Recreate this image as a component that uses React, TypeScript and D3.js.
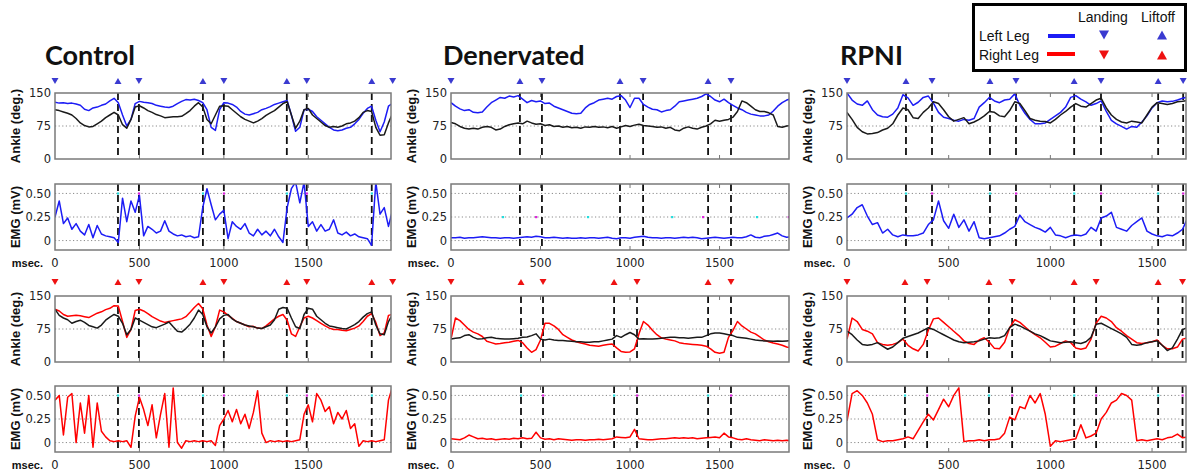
import React from 'react';
import * as d3 from 'd3';

// Sampling interval of every series (ms)
const STEP = 25;

// ---------- Control ----------
const ctrlLeftAnkle = [
  129, 127, 128, 126, 127, 125, 122, 113, 110, 116, 118, 122, 125, 132, 138,
  128, 100, 75, 90, 126, 131, 129, 128, 126, 122, 120, 118, 117, 120, 126,
  131, 135, 134, 136, 133, 128, 112, 72, 65, 112, 128, 127, 124, 118, 108,
  102, 100, 103, 106, 112, 115, 119, 124, 127, 130, 133, 100, 63, 72, 112,
  113, 108, 96, 88, 80, 72, 66, 64, 66, 70, 72, 80, 90, 104, 115,
  120, 88, 62, 84, 120, 127,
];
const ctrlLeftRef = [
  112, 110, 107, 104, 100, 92, 82, 76, 73, 74, 80, 86, 94, 100, 106,
  100, 78, 70, 90, 118, 121, 116, 110, 106, 101, 98, 94, 95, 96, 96,
  97, 103, 110, 120, 128, 118, 90, 80, 100, 120, 121, 120, 112, 104, 96,
  90, 86, 82, 86, 92, 99, 105, 110, 118, 126, 130, 100, 70, 86, 112,
  115, 100, 92, 84, 76, 72, 74, 72, 75, 80, 82, 86, 94, 106, 110,
  108, 72, 54, 55, 82, 104,
];
const ctrlLeftEmg = [
  0.25, 0.42, 0.18, 0.24, 0.12, 0.18, 0.1, 0.06, 0.17, 0.03, 0.16, 0.07, 0.05, 0.04, 0.03,
  -0.02, 0.45, 0.2, 0.42, 0.3, 0.48, 0.05, 0.15, 0.12, 0.08, 0.1, 0.21, 0.1, 0.07, 0.05,
  0.06, 0.04, 0.05, 0.03, 0.04, 0.35, 0.55, 0.38, 0.22, 0.28, 0.32, 0.02, 0.2, 0.15, 0.12,
  0.18, 0.08, 0.05, 0.12, 0.06, 0.1, 0.05, 0.12, 0.04, -0.02, 0.35, 0.55, 0.62, 0.4, 0.62,
  0.15, 0.2, 0.1, 0.17, 0.1, 0.12, 0.22, 0.08, 0.06, 0.09, 0.05, 0.07, 0.04, 0.03, 0.02,
  -0.05, 0.62, 0.28, 0.35, 0.15, 0.33,
];
const ctrlRightAnkle = [
  120, 116, 108, 104, 105, 106, 105, 103, 101, 106, 111, 114, 119, 122, 128,
  127, 92, 56, 74, 117, 120, 116, 110, 103, 98, 93, 90, 92, 94, 96,
  98, 103, 113, 124, 133, 121, 84, 58, 80, 118, 114, 106, 99, 92, 88,
  84, 80, 81, 77, 76, 82, 90, 98, 104, 108, 95, 64, 58, 80, 100,
  104, 100, 94, 88, 82, 77, 74, 74, 72, 71, 74, 77, 82, 92, 104,
  110, 90, 60, 66, 106, 108,
];
const ctrlRightRef = [
  120, 106, 100, 96, 88, 92, 95, 90, 83, 80, 77, 84, 95, 102, 108,
  104, 88, 62, 74, 100, 95, 90, 85, 80, 78, 82, 86, 91, 80, 70,
  68, 76, 86, 100, 118, 108, 80, 66, 80, 98, 106, 108, 98, 92, 88,
  84, 82, 80, 77, 76, 80, 84, 96, 120, 124, 122, 100, 80, 76, 108,
  122, 120, 104, 96, 88, 82, 80, 78, 76, 75, 80, 85, 92, 102, 110,
  114, 84, 64, 62, 92, 108,
];
const ctrlRightEmg = [
  0.45, 0.5, 0.08, 0.48, 0.52, 0.0, 0.42, 0.1, 0.5, -0.05, 0.42, 0.12, 0.06, 0.02, 0.01,
  0.02, 0.01, 0.02, -0.05, 0.28, 0.48, 0.35, 0.18, 0.4, 0.05, 0.3, 0.52, -0.05, 0.58, 0.0,
  -0.06, 0.02, 0.01, 0.02, 0.01, 0.02, 0.01, 0.02, -0.03, 0.18, 0.25, 0.34, 0.22, 0.35, 0.2,
  0.3, 0.15, 0.32, 0.55, 0.1, 0.0, 0.02, 0.01, 0.02, 0.01, 0.02, 0.01, 0.02, 0.03, 0.3,
  0.4, 0.22, 0.52, 0.45, 0.33, 0.38, 0.2, 0.32, 0.25, 0.34, 0.15, 0.2, -0.04, 0.02, 0.01,
  0.02, 0.01, 0.02, 0.03, 0.45, 0.6,
];
const ctrlLanding = [0, 497, 1000, 1491, 2000];
const ctrlLiftoff = [373, 876, 1373, 1876];

// ---------- Denervated ----------
const dnvLeftAnkle = [
  128, 120, 114, 110, 112, 106, 105, 107, 118, 128, 134, 140, 138, 143, 141,
  144, 136, 128, 133, 130, 132, 126, 127, 120, 116, 112, 108, 104, 103, 104,
  116, 124, 128, 134, 136, 138, 136, 142, 144, 134, 117, 138, 138, 124, 118,
  113, 112, 107, 110, 112, 120, 130, 132, 134, 136, 138, 142, 148, 142, 134,
  130, 136, 128, 122, 116, 112, 106, 102, 100, 98, 98, 100, 109, 120, 128,
  134, 137,
];
const dnvLeftRef = [
  83, 80, 74, 70, 68, 70, 68, 72, 74, 72, 66, 68, 74, 78, 80,
  82, 80, 86, 82, 79, 80, 76, 78, 74, 75, 72, 74, 71, 72, 70,
  73, 72, 74, 72, 73, 71, 74, 70, 73, 76, 74, 77, 79, 76, 75,
  74, 72, 73, 70, 72, 66, 64, 70, 73, 70, 68, 72, 75, 80, 88,
  86, 88, 90, 95, 108, 132, 128, 120, 112, 108, 108, 105, 100, 74, 72,
  75, 76,
];
const dnvLeftEmg = [
  0.03, 0.03, 0.035, 0.025, 0.03, 0.03, 0.035, 0.04, 0.035, 0.03, 0.03, 0.025, 0.03, 0.03, 0.025,
  0.03, 0.035, 0.04, 0.035, 0.045, 0.04, 0.03, 0.03, 0.035, 0.03, 0.025, 0.03, 0.025, 0.025, 0.03,
  0.025, 0.03, 0.03, 0.025, 0.03, 0.035, 0.025, 0.02, 0.03, 0.03, 0.025, 0.035, 0.04, 0.045, 0.035,
  0.03, 0.03, 0.025, 0.03, 0.03, 0.025, 0.03, 0.035, 0.03, 0.035, 0.03, 0.02, 0.025, 0.03, 0.035,
  0.03, 0.025, 0.03, 0.035, 0.03, 0.03, 0.04, 0.06, 0.035, 0.03, 0.045, 0.05, 0.065, 0.08, 0.05,
  0.035, 0.04,
];
const dnvRightAnkle = [
  52, 100, 94, 84, 74, 68, 64, 58, 47, 44, 41, 42, 44, 45, 47,
  49, 44, 32, 22, 28, 50, 88, 88, 82, 74, 62, 56, 50, 46, 43,
  41, 38, 37, 36, 38, 40, 41, 32, 24, 22, 23, 30, 64, 92, 84,
  72, 62, 55, 52, 50, 48, 44, 42, 41, 40, 39, 38, 36, 30, 22,
  20, 22, 56, 72, 92, 82, 75, 68, 64, 57, 50, 46, 43, 41, 38,
  34, 32,
];
const dnvRightRef = [
  52, 54, 55, 60, 62, 56, 52, 53, 55, 56, 54, 53, 52, 52, 53,
  54, 56, 57, 60, 64, 52, 50, 52, 50, 49, 49, 48, 47, 46, 46,
  45, 45, 46, 46, 48, 50, 52, 60, 56, 62, 67, 62, 52, 53, 52,
  52, 53, 54, 55, 56, 56, 55, 55, 54, 55, 56, 56, 60, 64, 66,
  66, 64, 62, 60, 56, 55, 54, 52, 50, 49, 48, 48, 47, 48, 47,
  48, 49,
];
const dnvRightEmg = [
  0.04, 0.035, 0.03, 0.05, 0.08, 0.06, 0.04, 0.045, 0.035, 0.04, 0.03, 0.035, 0.04, 0.035, 0.045,
  0.04, 0.05, 0.04, 0.045, 0.11, 0.05, 0.035, 0.04, 0.03, 0.04, 0.035, 0.03, 0.025, 0.03, 0.03,
  0.025, 0.03, 0.03, 0.035, 0.03, 0.035, 0.04, 0.06, 0.055, 0.05, 0.06, 0.14, 0.04, 0.035, 0.03,
  0.03, 0.035, 0.04, 0.04, 0.045, 0.05, 0.045, 0.05, 0.045, 0.05, 0.04, 0.045, 0.05, 0.055, 0.06,
  0.05, 0.1, 0.06, 0.05, 0.035, 0.03, 0.04, 0.03, 0.025, 0.02, 0.03, 0.025, 0.02, 0.025, 0.02,
  0.025, 0.02,
];
const dnvLeftLanding = [0, 508, 1073, 1564];
const dnvLeftLiftoff = [385, 944, 1436];
const dnvRightLanding = [0, 514, 1039, 1564];
const dnvRightLiftoff = [391, 911, 1436];
const dnvLeftCyan = [290, 765, 1235, 1709];
const dnvLeftMagenta = [475, 1408, 1886];

// ---------- RPNI ----------
const rpniLeftAnkle = [
  150, 134, 125, 122, 132, 112, 100, 96, 95, 102, 116, 146, 139, 122, 129,
  140, 143, 127, 106, 95, 92, 88, 86, 90, 88, 92, 118, 128, 140, 132,
  128, 134, 136, 148, 122, 104, 90, 80, 80, 82, 90, 98, 106, 118, 140,
  144, 136, 130, 122, 126, 132, 108, 88, 80, 74, 68, 74, 72, 84, 98,
  116, 128, 132, 130, 131, 134, 138, 141,
];
const rpniLeftRef = [
  106, 90, 72, 62, 57, 58, 60, 66, 70, 80, 100, 116, 112, 94, 92,
  106, 116, 130, 126, 112, 96, 86, 90, 94, 80, 84, 90, 98, 108, 106,
  98, 96, 110, 130, 126, 110, 92, 88, 86, 85, 82, 90, 100, 108, 118,
  126, 120, 118, 126, 134, 138, 116, 100, 90, 84, 82, 86, 84, 82, 100,
  118, 128, 126, 124, 126, 130, 131, 133,
];
const rpniLeftEmg = [
  0.24, 0.28, 0.35, 0.38, 0.26, 0.17, 0.19, 0.08, 0.12, 0.06, 0.04, 0.06, 0.05, 0.05, 0.06,
  0.08, 0.17, 0.22, 0.42, 0.21, 0.13, 0.28, 0.14, 0.22, 0.1, 0.2, 0.03, 0.02, 0.03, 0.04,
  0.05, 0.08, 0.12, 0.15, 0.27, 0.2, 0.17, 0.14, 0.12, 0.09, 0.14, 0.06, 0.05, 0.03, 0.05,
  0.06, 0.05, 0.07, 0.14, 0.1, 0.24, 0.26, 0.3, 0.14, 0.12, 0.1, 0.16, 0.2, 0.24, 0.1,
  0.07, 0.05, 0.04, 0.06, 0.05, 0.08, 0.12, 0.24,
];
const rpniRightAnkle = [
  52, 100, 92, 74, 70, 64, 44, 40, 38, 40, 44, 52, 38, 30, 25,
  40, 72, 98, 100, 90, 80, 70, 60, 48, 42, 40, 50, 55, 45, 31,
  30, 45, 78, 96, 90, 80, 70, 62, 55, 45, 34, 36, 42, 48, 44,
  32, 29, 32, 52, 88, 104, 100, 92, 78, 70, 60, 52, 44, 42, 44,
  46, 50, 38, 30, 30, 34, 52, 55,
];
const rpniRightRef = [
  70, 62, 50, 40, 38, 40, 44, 36, 29, 34, 44, 54, 58, 62, 66,
  72, 78, 74, 68, 62, 56, 50, 46, 44, 45, 46, 48, 52, 55, 54,
  55, 60, 78, 86, 82, 76, 70, 64, 60, 54, 48, 46, 44, 45, 46,
  44, 42, 46, 56, 86, 88, 82, 76, 70, 64, 56, 40, 38, 40, 44,
  46, 48, 38, 26, 32, 52, 74, 78,
];
const rpniRightEmg = [
  0.23, 0.52, 0.55, 0.5, 0.42, 0.3, 0.03, 0.01, 0.02, 0.02, 0.03, 0.04, 0.06, 0.04, 0.13,
  0.22, 0.3, 0.24, 0.35, 0.46, 0.38, 0.5, 0.58, 0.01, 0.02, 0.02, 0.03, 0.02, 0.03, 0.03,
  0.04, 0.1, 0.27, 0.24, 0.38, 0.36, 0.5, 0.42, 0.52, 0.3, -0.04, 0.02, 0.01, 0.02, 0.03,
  0.04, 0.19, 0.05, 0.07, 0.1, 0.25, 0.32, 0.42, 0.45, 0.52, 0.5, 0.45, 0.02, 0.03, 0.02,
  0.03, 0.04, 0.03, 0.05, 0.06, 0.09, 0.05, 0.06,
];
const rpniLeftLanding = [0, 418, 831, 1249, 1653];
const rpniLeftLiftoff = [290, 703, 1117, 1530];
const rpniRightLanding = [0, 394, 812, 1225, 1650];
const rpniRightLiftoff = [285, 698, 1117, 1530];

// ---------- Axis ticks ----------
const ankleTicks = [0, 75, 150];
const emgTicks = [0, 0.25, 0.5];
const emgTickLabels = ['0', '0.25', '0.50'];
const timeTicks = [0, 500, 1000, 1500];

// ---------- Styling ----------
const BLUE = '#1c1cf5';
const BLUE_TRI = '#3a3ad0';
const RED = '#ff0000';
const RED_TRI = '#ee1111';
const CYAN = '#22dddd';
const MAGENTA = '#dd22dd';
const TICK_FONT = '"DejaVu Sans", Verdana, sans-serif';
const LABEL_FONT = '"Liberation Sans", Arial, sans-serif';

type Mark = { t: number; v: number; c: string };
type Leg = {
  ankle: number[];
  ref: number[];
  emg: number[];
  color: string;
  triColor: string;
  landing: number[];
  liftoff: number[];
  marks: Mark[];
};
type Column = {
  key: string;
  title: string;
  titleX: number;
  left: number;
  right: number;
  tEnd: number;
  legs: Leg[];
};

const eventMarks = (landing: number[], liftoff: number[], tEnd: number, v: number): Mark[] => [
  ...liftoff.filter((t) => t > 0 && t <= tEnd).map((t) => ({ t, v, c: CYAN })),
  ...landing.filter((t) => t > 0 && t <= tEnd).map((t) => ({ t, v, c: MAGENTA })),
];

const columns: Column[] = [
  {
    key: 'ctrl',
    title: 'Control',
    titleX: 45,
    left: 55,
    right: 391,
    tEnd: 1990,
    legs: [
      {
        ankle: ctrlLeftAnkle, ref: ctrlLeftRef, emg: ctrlLeftEmg, color: BLUE, triColor: BLUE_TRI,
        landing: ctrlLanding, liftoff: ctrlLiftoff, marks: eventMarks(ctrlLanding, ctrlLiftoff, 1990, 0.5),
      },
      {
        ankle: ctrlRightAnkle, ref: ctrlRightRef, emg: ctrlRightEmg, color: RED, triColor: RED_TRI,
        landing: ctrlLanding, liftoff: ctrlLiftoff, marks: eventMarks(ctrlLanding, ctrlLiftoff, 1990, 0.5),
      },
    ],
  },
  {
    key: 'dnv',
    title: 'Denervated',
    titleX: 443,
    left: 451,
    right: 789,
    tEnd: 1888,
    legs: [
      {
        ankle: dnvLeftAnkle, ref: dnvLeftRef, emg: dnvLeftEmg, color: BLUE, triColor: BLUE_TRI,
        landing: dnvLeftLanding, liftoff: dnvLeftLiftoff,
        marks: [
          ...dnvLeftCyan.map((t) => ({ t, v: 0.25, c: CYAN })),
          ...dnvLeftMagenta.map((t) => ({ t, v: 0.25, c: MAGENTA })),
        ],
      },
      {
        ankle: dnvRightAnkle, ref: dnvRightRef, emg: dnvRightEmg, color: RED, triColor: RED_TRI,
        landing: dnvRightLanding, liftoff: dnvRightLiftoff,
        marks: eventMarks(dnvRightLanding, dnvRightLiftoff, 1888, 0.5),
      },
    ],
  },
  {
    key: 'rpni',
    title: 'RPNI',
    titleX: 840,
    left: 847,
    right: 1186,
    tEnd: 1667,
    legs: [
      {
        ankle: rpniLeftAnkle, ref: rpniLeftRef, emg: rpniLeftEmg, color: BLUE, triColor: BLUE_TRI,
        landing: rpniLeftLanding, liftoff: rpniLeftLiftoff,
        marks: eventMarks(rpniLeftLanding, rpniLeftLiftoff, 1667, 0.5),
      },
      {
        ankle: rpniRightAnkle, ref: rpniRightRef, emg: rpniRightEmg, color: RED, triColor: RED_TRI,
        landing: rpniRightLanding, liftoff: rpniRightLiftoff,
        marks: eventMarks(rpniRightLanding, rpniRightLiftoff, 1667, 0.5),
      },
    ],
  },
];

// Vertical layout of the two leg blocks
const LEG_ROWS = [
  { triY: 81, ankleTop: 93, emgTop: 184 },
  { triY: 282, ankleTop: 296, emgTop: 386 },
];
const PANEL_H = 66;

const tri = (x: number, y: number, down: boolean, w = 7, h = 6) =>
  down
    ? `M${x - w / 2},${y - h / 2}L${x + w / 2},${y - h / 2}L${x},${y + h / 2}Z`
    : `M${x - w / 2},${y + h / 2}L${x + w / 2},${y + h / 2}L${x},${y - h / 2}Z`;

type PanelProps = {
  id: string;
  x: d3.ScaleLinear<number, number>;
  y: d3.ScaleLinear<number, number>;
  top: number;
  left: number;
  right: number;
  series: { values: number[]; color: string }[];
  grid: number[];
  yTicks: number[];
  yLabels: string[];
  yTitle: string;
  events: number[];
  tEnd: number;
  marks: Mark[];
  xAxis: boolean;
};

function Panel(p: PanelProps) {
  const bottom = p.top + PANEL_H;
  const width = p.right - p.left;
  return (
    <g>
      <defs>
        <clipPath id={p.id}>
          <rect x={p.left} y={p.top} width={width} height={PANEL_H} />
        </clipPath>
      </defs>
      {p.grid.map((g) => (
        <line
          key={g}
          x1={p.left}
          x2={p.right}
          y1={p.y(g)}
          y2={p.y(g)}
          stroke="#8a8a8a"
          strokeWidth={1}
          strokeDasharray="1.2,2.4"
        />
      ))}
      {timeTicks
        .filter((t) => t > 0)
        .map((t) => (
          <g key={t} stroke="#777" strokeWidth={1}>
            <line x1={p.x(t)} x2={p.x(t)} y1={bottom} y2={bottom - 4} />
            <line x1={p.x(t)} x2={p.x(t)} y1={p.top} y2={p.top + 4} />
          </g>
        ))}
      <g clipPath={`url(#${p.id})`}>
        {p.events
          .filter((t) => t > 5 && t < p.tEnd - 5)
          .map((t) => (
            <line
              key={t}
              x1={p.x(t)}
              x2={p.x(t)}
              y1={p.top}
              y2={bottom}
              stroke="#111"
              strokeWidth={1.8}
              strokeDasharray="7,4"
            />
          ))}
        {p.series.map((s, i) => {
          const line = d3
            .line<number>()
            .x((_, k) => p.x(k * STEP))
            .y((v) => p.y(v));
          return (
            <path
              key={i}
              d={line(s.values) || ''}
              fill="none"
              stroke={s.color}
              strokeWidth={1.5}
              strokeLinejoin="round"
            />
          );
        })}
        {p.marks.map((m, i) => (
          <rect key={i} x={p.x(m.t) - 1} y={p.y(m.v) - 1} width={2.2} height={2.2} fill={m.c} />
        ))}
      </g>
      <rect
        x={p.left}
        y={p.top}
        width={width}
        height={PANEL_H}
        fill="none"
        stroke="#7a7a7a"
        strokeWidth={1.5}
      />
      {p.yTicks.map((v, i) => (
        <text
          key={v}
          x={p.left - 4}
          y={p.y(v)}
          dy="0.36em"
          textAnchor="end"
          fontFamily={TICK_FONT}
          fontSize={11.5}
          fill="#222"
        >
          {p.yLabels[i]}
        </text>
      ))}
      <text
        transform={`translate(${p.left - 40},${p.top + PANEL_H / 2}) rotate(-90)`}
        textAnchor="middle"
        dy="0.35em"
        fontFamily={LABEL_FONT}
        fontWeight="bold"
        fontSize={13}
        fill="#111"
      >
        {p.yTitle}
      </text>
      {p.xAxis && (
        <g>
          {timeTicks.map((t) => (
            <text
              key={t}
              x={p.x(t)}
              y={bottom + 17}
              textAnchor="middle"
              fontFamily={TICK_FONT}
              fontSize={11.5}
              fill="#222"
            >
              {t}
            </text>
          ))}
          <text
            x={p.left - 12}
            y={bottom + 17}
            textAnchor="end"
            fontFamily={LABEL_FONT}
            fontWeight="bold"
            fontSize={11}
            fill="#111"
          >
            msec.
          </text>
        </g>
      )}
    </g>
  );
}

function Legend() {
  return (
    <g fontFamily={LABEL_FONT} fontSize={14} fill="#111">
      <rect x={973.5} y={4.5} width={212} height={66} fill="#fff" stroke="#000" strokeWidth={3} />
      <text x={1078} y={22}>Landing</text>
      <text x={1141} y={22}>Liftoff</text>
      <text x={979} y={41}>Left Leg</text>
      <text x={979} y={60}>Right Leg</text>
      <line x1={1048} x2={1075} y1={36} y2={36} stroke={BLUE} strokeWidth={4} />
      <line x1={1047} x2={1075} y1={54} y2={54} stroke={RED} strokeWidth={4} />
      <path d={tri(1104, 35, true, 10, 9)} fill={BLUE_TRI} />
      <path d={tri(1162, 35, false, 10, 9)} fill={BLUE_TRI} />
      <path d={tri(1104, 55, true, 10, 9)} fill={RED_TRI} />
      <path d={tri(1162, 55, false, 10, 9)} fill={RED_TRI} />
    </g>
  );
}

export default function App() {
  return (
    <svg
      width={1188}
      height={473}
      viewBox="0 0 1188 473"
      style={{ position: 'absolute', left: 0, top: 0, background: '#fff' }}
    >
      <rect width={1188} height={473} fill="#fff" />
      {columns.map((col) => {
        const x = d3.scaleLinear().domain([0, col.tEnd]).range([col.left, col.right]);
        return (
          <g key={col.key}>
            <text
              x={col.titleX}
              y={65}
              fontFamily="Lato, 'Open Sans', sans-serif"
              fontWeight="bold"
              fontSize={27}
              fill="#111"
            >
              {col.title}
            </text>
            {col.legs.map((leg, li) => {
              const row = LEG_ROWS[li];
              const yA = d3.scaleLinear().domain([0, 150]).range([row.ankleTop + PANEL_H, row.ankleTop]);
              const yE = d3.scaleLinear().domain([-0.1, 0.6]).range([row.emgTop + PANEL_H, row.emgTop]);
              const events = [...leg.landing, ...leg.liftoff];
              return (
                <g key={li}>
                  {leg.landing.map((t) => (
                    <path key={`d${t}`} d={tri(x(t), row.triY, true)} fill={leg.triColor} />
                  ))}
                  {leg.liftoff.map((t) => (
                    <path key={`u${t}`} d={tri(x(t), row.triY, false)} fill={leg.triColor} />
                  ))}
                  <Panel
                    id={`${col.key}-a-${li}`}
                    x={x}
                    y={yA}
                    top={row.ankleTop}
                    left={col.left}
                    right={col.right}
                    series={[
                      { values: leg.ankle, color: leg.color },
                      { values: leg.ref, color: '#1a1a1a' },
                    ]}
                    grid={[75]}
                    yTicks={ankleTicks}
                    yLabels={ankleTicks.map(String)}
                    yTitle="Ankle (deg.)"
                    events={events}
                    tEnd={col.tEnd}
                    marks={[]}
                    xAxis={false}
                  />
                  <Panel
                    id={`${col.key}-e-${li}`}
                    x={x}
                    y={yE}
                    top={row.emgTop}
                    left={col.left}
                    right={col.right}
                    series={[{ values: leg.emg, color: leg.color }]}
                    grid={emgTicks}
                    yTicks={emgTicks}
                    yLabels={emgTickLabels}
                    yTitle="EMG (mV)"
                    events={events}
                    tEnd={col.tEnd}
                    marks={leg.marks}
                    xAxis={true}
                  />
                </g>
              );
            })}
          </g>
        );
      })}
      <Legend />
    </svg>
  );
}
